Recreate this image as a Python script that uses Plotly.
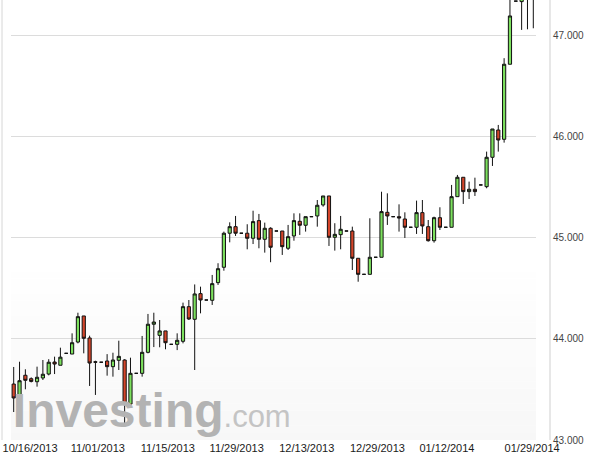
import plotly.graph_objects as go

# ---- data ----
slots = list(range(1, 91))

opens = [43.554, 43.409, 43.641, 43.607, 43.577, 43.614, 43.653, 43.772, 43.740, 43.858,
         43.851, 43.970, 44.228, 44.010, 43.775, 43.770, 43.782, 43.726, 43.789, 43.792,
         43.356, 43.660, 43.660, 43.868, 44.146, 44.036, 44.080, 43.947, 43.947, 43.977,
         44.320, 44.195, 44.449, 44.386, 44.383, 44.558, 44.710, 45.047, 45.112, 45.047,
         45.047, 44.997, 45.172, 44.987, 45.096, 45.069, 45.069, 44.898, 45.020, 45.165,
         45.126, 45.211, 45.218, 45.327, 45.416, 45.007, 45.033, 45.069, 45.069, 44.799,
         44.640, 44.640, 44.809, 44.809, 45.254, 45.211, 45.211, 45.188, 45.106, 45.106,
         45.251, 45.112, 44.973, 45.201, 45.106, 45.106, 45.409, 45.601, 45.459, 45.482,
         45.525, 45.508, 45.799, 46.069, 45.977, 46.720, 47.345, 47.340, 47.450, 47.500]
highs = [43.723, 43.775, 43.700, 43.620, 43.726, 43.792, 43.800, 43.825, 43.914, 43.858,
         44.056, 44.260, 44.228, 44.033, 43.785, 43.770, 43.850, 43.864, 43.983, 43.800,
         43.815, 43.660, 44.030, 44.248, 44.260, 44.188, 44.080, 43.947, 44.056, 44.360,
         44.386, 44.540, 44.518, 44.386, 44.634, 44.750, 45.063, 45.155, 45.218, 45.047,
         45.136, 45.270, 45.238, 45.152, 45.106, 45.069, 45.069, 45.129, 45.244, 45.244,
         45.211, 45.211, 45.376, 45.416, 45.416, 45.146, 45.218, 45.069, 45.112, 44.799,
         44.640, 45.195, 44.809, 45.458, 45.442, 45.211, 45.333, 45.254, 45.106, 45.370,
         45.376, 45.178, 45.211, 45.304, 45.106, 45.525, 45.624, 45.601, 45.558, 45.597,
         45.525, 45.855, 46.079, 46.119, 46.780, 47.500, 47.345, 47.600, 47.700, 47.750]
lows = [43.277, 43.330, 43.502, 43.570, 43.528, 43.594, 43.640, 43.653, 43.740, 43.858,
        43.851, 43.957, 43.858, 43.535, 43.446, 43.770, 43.637, 43.627, 43.693, 43.130,
        43.350, 43.660, 43.627, 43.858, 43.920, 43.918, 43.898, 43.947, 43.890, 43.957,
        44.188, 43.693, 44.254, 44.386, 44.337, 44.535, 44.676, 44.957, 45.020, 45.047,
        44.888, 44.940, 44.898, 44.855, 44.760, 45.069, 44.832, 44.881, 44.973, 45.030,
        45.063, 45.211, 45.112, 45.310, 44.921, 44.875, 44.888, 45.069, 44.683, 44.567,
        44.640, 44.640, 44.809, 44.809, 45.129, 45.211, 45.063, 45.000, 45.106, 45.040,
        45.040, 44.964, 44.954, 45.079, 45.106, 45.106, 45.409, 45.337, 45.386, 45.416,
        45.525, 45.492, 45.713, 45.855, 45.944, 46.720, 47.345, 47.060, 47.066, 47.076]
closes = [43.416, 43.587, 43.591, 43.580, 43.621, 43.651, 43.770, 43.752, 43.820, 43.858,
          43.963, 44.221, 44.007, 43.762, 43.770, 43.770, 43.726, 43.792, 43.828, 43.356,
          43.660, 43.660, 43.868, 44.146, 44.168, 44.080, 43.963, 43.947, 43.987, 44.320,
          44.198, 44.446, 44.386, 44.386, 44.548, 44.696, 45.047, 45.112, 45.047, 45.047,
          44.997, 45.162, 44.987, 45.096, 44.908, 45.069, 44.914, 45.013, 45.172, 45.126,
          45.211, 45.211, 45.324, 45.416, 45.007, 45.036, 45.086, 45.069, 44.799, 44.640,
          44.640, 44.809, 44.809, 45.261, 45.218, 45.211, 45.198, 45.106, 45.106, 45.251,
          45.119, 44.973, 45.201, 45.106, 45.106, 45.409, 45.601, 45.459, 45.482, 45.459,
          45.525, 45.799, 46.079, 45.970, 46.720, 47.198, 47.345, 47.450, 47.550, 47.600]

x_tick_labels = ["10/16/2013", "11/01/2013", "11/15/2013", "11/29/2013",
                 "12/13/2013", "12/29/2013", "01/12/2014", "01/29/2014"]
x_tick_slots = [3.8, 15.4, 27.4, 39.2, 51.2, 63.3, 75.2, 89.8]
y_ticks = [43, 44, 45, 46, 47]

# ---- figure ----
W, H = 591, 461
L, R, T, B = 11, 55, 0, 21
pw = W - L - R
x_range = [0.538, 90.46]
y_range = [43.0, 47.356]

fig = go.Figure()

# watermark, drawn under candles
fig.add_trace(go.Scatter(
    x=[0.85], y=[43.25], mode="text",
    text=["<b>Investing</b><span style='font-size:31px;fill:#c4c4c4;font-weight:normal'>.com</span>"],
    textposition="middle right",
    textfont=dict(family="Liberation Sans, Arial, sans-serif", size=48, color="#b3b3b3"),
    hoverinfo="skip", showlegend=False, cliponaxis=False,
))

fig.add_trace(go.Candlestick(
    x=slots, open=opens, high=highs, low=lows, close=closes,
    increasing=dict(fillcolor="#7ce05e", line=dict(color="#111111", width=1)),
    decreasing=dict(fillcolor="#d4452a", line=dict(color="#111111", width=1)),
    whiskerwidth=0, showlegend=False,
))

shapes = []
# subtle gradient in the lower part of the plot area
n = 24
y0p, y1p = 0.0, 0.40
for i in range(n):
    a = 0.03 * (1 - i / n)
    shapes.append(dict(type="rect", xref="paper", yref="paper",
                       x0=0, x1=1, y0=y0p + (y1p - y0p) * i / n, y1=y0p + (y1p - y0p) * (i + 1) / n,
                       fillcolor=f"rgba(0,0,0,{a:.4f})", line=dict(width=0), layer="below"))
# frame lines left and right
shapes.append(dict(type="line", xref="paper", yref="paper",
                   x0=(550 - L) / pw, x1=(550 - L) / pw, y0=0, y1=1,
                   line=dict(color="#cfcfcf", width=1)))
shapes.append(dict(type="line", xref="paper", yref="paper",
                   x0=(2 - L) / pw, x1=(2 - L) / pw, y0=0, y1=1,
                   line=dict(color="#d6d6d6", width=1)))

fig.update_layout(
    width=W, height=H,
    margin=dict(l=L, r=R, t=T, b=B, pad=0),
    paper_bgcolor="white", plot_bgcolor="white",
    showlegend=False,
    boxgap=0.22,
    shapes=shapes,
    hovermode=False,
    xaxis=dict(range=x_range, rangeslider=dict(visible=False),
               showgrid=False, zeroline=False, showline=False,
               tickmode="array", tickvals=x_tick_slots, ticktext=x_tick_labels,
               ticks="", tickfont=dict(family="Liberation Sans, Arial, sans-serif", size=11, color="#1a1a1a"),
               fixedrange=True),
    yaxis=dict(range=y_range, side="right", showgrid=True, gridcolor="#dcdcdc", gridwidth=1,
               zeroline=False, showline=False,
               tickmode="array", tickvals=y_ticks, ticktext=[f"{v:.3f}" for v in y_ticks],
               ticks="", ticklabelstandoff=16,
               tickfont=dict(family="Liberation Sans, Arial, sans-serif", size=10, color="#444444"),
               fixedrange=True),
)

fig.write_html("out.html",
               config={"displayModeBar": False, "staticPlot": True},
               post_script="document.body.style.margin='0';document.body.style.padding='0';")
